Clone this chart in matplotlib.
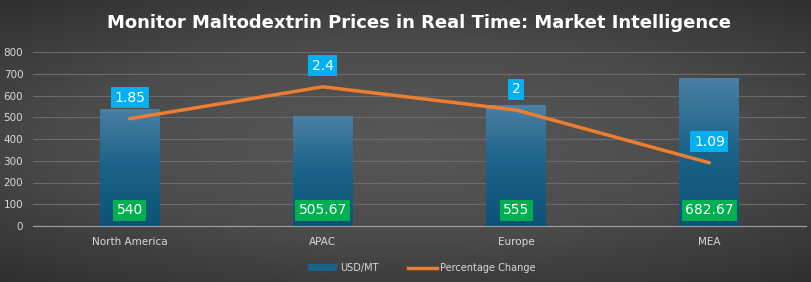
import numpy as np
import matplotlib
matplotlib.use("Agg")
import matplotlib.pyplot as plt
from matplotlib.colors import LinearSegmentedColormap
from matplotlib.lines import Line2D
from matplotlib.patches import Patch

# chart data
regions = ["North America", "APAC", "Europe", "MEA"]
usd_mt = [540, 505.67, 555, 682.67]
pct_change = [1.85, 2.4, 2, 1.09]
usd_labels = ["540", "505.67", "555", "682.67"]
pct_labels = ["1.85", "2.4", "2", "1.09"]

fig = plt.figure(figsize=(8.11, 2.82), dpi=100)

# radial-ish background gradient
bg = fig.add_axes([0, 0, 1, 1])
yy, xx = np.mgrid[-1:1:300j, -1:1:800j]
r = np.sqrt((xx * 0.75) ** 2 + (yy * 0.9) ** 2)
bg_cmap = LinearSegmentedColormap.from_list("bg", ["#585858", "#4b4b4b", "#2b2b2b"])
bg.imshow(r, cmap=bg_cmap, aspect="auto", extent=[0, 1, 0, 1], vmin=0, vmax=1.25)
bg.axis("off")

ax = fig.add_axes([33 / 811, 1 - 226 / 282, (806 - 33) / 811, (226 - 52) / 282])
ax.set_facecolor("none")
x = np.arange(len(regions))

bar_cmap = LinearSegmentedColormap.from_list("bar", ["#0c5377", "#1b6288", "#4a80a3"])
grad = np.linspace(0, 1, 256).reshape(-1, 1)
bars = ax.bar(x, usd_mt, width=0.31, color="none", zorder=2)
for b in bars:
    x0, y0 = b.get_x(), b.get_y()
    im = ax.imshow(grad, cmap=bar_cmap, aspect="auto", origin="lower",
                   extent=[x0, x0 + b.get_width(), y0, y0 + b.get_height()], zorder=2)
    im.set_clip_path(b)
ax.set_xlim(-0.5, len(regions) - 0.5)
ax.set_ylim(0, 800)

ax.set_yticks(range(0, 801, 100))
ax.grid(axis="y", color="#6b6b6b", linewidth=0.8, zorder=0)
ax.set_axisbelow(True)
for s in ["top", "right", "left"]:
    ax.spines[s].set_visible(False)
ax.spines["bottom"].set_color("#a0a0a0")
ax.tick_params(axis="both", length=0, colors="#d9d9d9", labelsize=7.5)
ax.tick_params(axis="y", pad=7)
ax.set_xticks(x)
ax.set_xticklabels(regions)
ax.tick_params(axis="x", pad=8)

for xi, lab in zip(x, usd_labels):
    ax.text(xi, 72, lab, ha="center", va="center", color="white", fontsize=10,
            bbox=dict(boxstyle="square,pad=0.25", fc="#00b050", ec="none"), zorder=5)

ax2 = ax.twinx()
ax2.set_ylim(0, 3.0)
ax2.axis("off")
ax2.plot(x, pct_change, color="#ed7d31", linewidth=2.5, solid_capstyle="round", zorder=4)
for xi, v, lab in zip(x, pct_change, pct_labels):
    ax2.annotate(lab, (xi, v), xytext=(0, 15), textcoords="offset points",
                 ha="center", va="center", color="white", fontsize=10,
                 bbox=dict(boxstyle="square,pad=0.25", fc="#00b0f0", ec="none"), zorder=6)

fig.text(0.517, 0.92, "Monitor Maltodextrin Prices in Real Time: Market Intelligence",
         ha="center", va="center", color="white", fontsize=13, fontweight="bold")

handles = [Patch(facecolor="#1b6288"), Line2D([0], [0], color="#ed7d31", linewidth=2.5)]
fig.legend(handles, ["USD/MT", "Percentage Change"], loc="center", bbox_to_anchor=(0.52, 0.05),
           ncol=2, frameon=False, fontsize=7, labelcolor="#d9d9d9",
           handlelength=3, handleheight=0.6, columnspacing=3, handletextpad=0.3)

fig.savefig("out.png", dpi=100)
